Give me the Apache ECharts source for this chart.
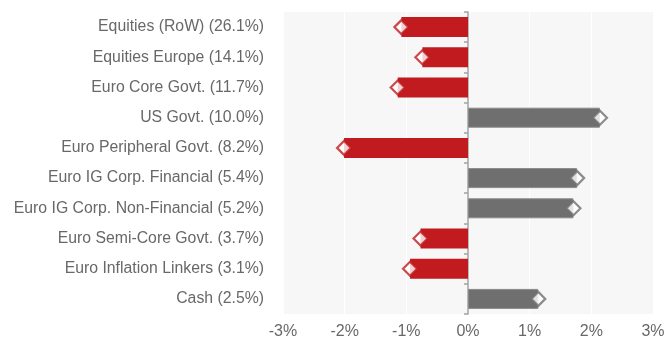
<!DOCTYPE html>
<html>
<head>
<meta charset="utf-8">
<script src="https://cdn.jsdelivr.net/npm/echarts@6/dist/echarts.min.js"></script>
<style>
  html, body { margin: 0; padding: 0; background: #ffffff; }
  #chart { width: 668px; height: 340px; }
</style>
</head>
<body>
<div id="chart"></div>
<script>
// Asset classes (portfolio weight in brackets), top to bottom
const categories = [
  'Equities (RoW) (26.1%)',
  'Equities Europe (14.1%)',
  'Euro Core Govt. (11.7%)',
  'US Govt. (10.0%)',
  'Euro Peripheral Govt. (8.2%)',
  'Euro IG Corp. Financial (5.4%)',
  'Euro IG Corp. Non-Financial (5.2%)',
  'Euro Semi-Core Govt. (3.7%)',
  'Euro Inflation Linkers (3.1%)',
  'Cash (2.5%)'
];
// Relative positioning, in percent
const values = [-1.08, -0.74, -1.14, 2.14, -2.01, 1.77, 1.71, -0.77, -0.94, 1.14];
// Percent tick labels on the value axis
const xTicks = [-3, -2, -1, 0, 1, 2, 3];

const RED = '#c11b1f';
const GREY = '#6f6f70';
const TEXT = '#686868';

// Category axis runs top to bottom, so reverse for ECharts' bottom-up order
const cats = categories.slice().reverse();
const vals = values.slice().reverse();

const chart = echarts.init(document.getElementById('chart'), null, { renderer: 'canvas' });

chart.setOption({
  animation: false,
  backgroundColor: '#ffffff',
  grid: {
    left: 283, right: 15, top: 12, bottom: 26,
    show: true, backgroundColor: '#f7f7f7', borderWidth: 0
  },
  xAxis: {
    type: 'value',
    min: xTicks[0], max: xTicks[xTicks.length - 1], interval: 1,
    axisLine: { show: false },
    axisTick: { show: false },
    splitLine: { show: true, lineStyle: { color: '#ffffff', width: 1 } },
    axisLabel: {
      color: TEXT, fontFamily: 'Liberation Sans, Arial, sans-serif', fontSize: 16,
      margin: 10, formatter: v => v + '%'
    }
  },
  yAxis: [
    {
      type: 'category', data: cats, position: 'left',
      axisLine: { show: false, onZero: false },
      axisTick: { show: false },
      axisLabel: {
        color: TEXT, fontFamily: 'Liberation Sans, Arial, sans-serif', fontSize: 15.8,
        margin: 19
      }
    },
    {
      type: 'category', data: cats, position: 'left',
      axisLine: { show: true, onZero: true, lineStyle: { color: '#a3a3a3', width: 1.5 } },
      axisTick: { show: true, length: 4, lineStyle: { color: '#a3a3a3', width: 1.5 } },
      axisLabel: { show: false },
      splitLine: { show: false }
    }
  ],
  series: [
    {
      type: 'bar', yAxisIndex: 0, barWidth: 20,
      data: vals.map(v => ({
        value: v,
        itemStyle: v < 0
          ? { color: RED }
          : { color: GREY, borderColor: '#8a8a8a', borderWidth: 1 }
      })),
      z: 2
    },
    {
      type: 'scatter', yAxisIndex: 0, symbol: 'diamond', symbolSize: [14, 14],
      data: vals.map(v => ({
        value: v,
        itemStyle: { color: '#ffffff', borderColor: v < 0 ? RED : GREY, borderWidth: 2.2 }
      })),
      z: 4
    }
  ]
});
</script>
</body>
</html>
